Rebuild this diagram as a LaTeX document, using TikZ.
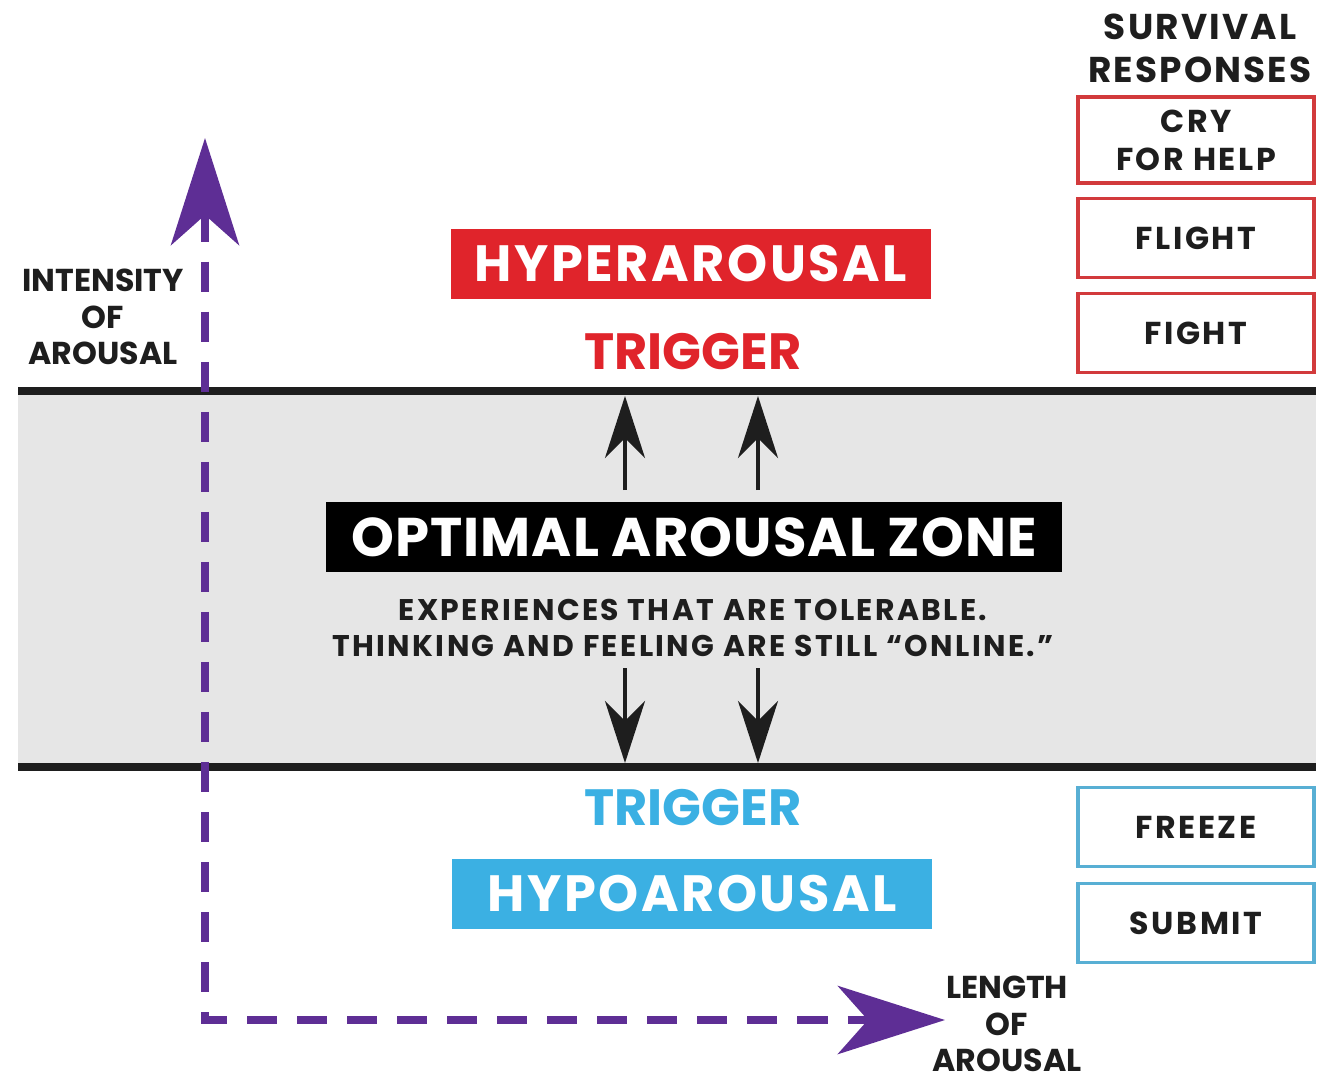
\documentclass[tikz,border=0pt]{standalone}
\usepackage{fontspec}
\setmainfont{Poppins}
\usetikzlibrary{arrows.meta}

\definecolor{hyperred}{HTML}{E0242B}
\definecolor{hypoblue}{HTML}{3BB0E3}
\definecolor{axispurple}{HTML}{5E2E95}
\definecolor{zonegray}{HTML}{E6E6E6}
\definecolor{redframe}{HTML}{D23A3C}
\definecolor{blueframe}{HTML}{58AFD4}
\definecolor{inkblack}{HTML}{1E1E1E}

\tikzset{
	small label/.style={font=\bfseries\fontsize{9}{10.4}\selectfont, align=center, text=inkblack, inner sep=0pt},
	state box/.style={font=\bfseries\fontsize{14.5}{16}\selectfont\addfontfeature{LetterSpace=5}, text=white, minimum width=4.8cm, minimum height=0.7cm, inner sep=0pt},
	trigger label/.style={font=\bfseries\fontsize{14.5}{16}\selectfont, inner sep=0pt},
	response box/.style={draw, line width=0.9pt, font=\bfseries\fontsize{9}{10.8}\selectfont\addfontfeature{LetterSpace=8}, align=center, text=inkblack, minimum width=2.36cm, minimum height=0.79cm, inner sep=0pt},
	zone line/.style={line width=2pt, inkblack},
	zone arrow/.style={line width=1.1pt, inkblack, -{Stealth[length=0.62cm, width=0.4cm, inset=0.2cm]}},
	axis arrow/.style={line width=2.3pt, axispurple, dash pattern=on 0.3cm off 0.2cm,
		{Stealth[length=1.07cm, width=0.68cm, inset=0.3cm]}-{Stealth[length=1.07cm, width=0.68cm, inset=0.3cm]}}
}

\begin{document}
\begin{tikzpicture}[x=0.01cm, y=-0.01cm]
	\useasboundingbox (0,0) rectangle (1323,1081);

	% comfort band
	\fill[zonegray] (18,391) rectangle (1316,768);
	\draw[zone line] (18,391) -- (1316,391);
	\draw[zone line] (18,767) -- (1316,767);

	% axes
	\coordinate (origin) at (205,1020);
	\coordinate (ytip) at (205,138);
	\coordinate (xtip) at (945,1020);
	\draw[axis arrow] (ytip) -- (origin) -- (xtip);
	\node[small label] (intensity) at (103,317) {INTENSITY\\OF\\AROUSAL};
	\node[small label] (length) at (1007,1024) {LENGTH\\OF\\AROUSAL};

	% states
	\node[state box, fill=hyperred] (hyper) at (691,264) {HYPERAROUSAL};
	\node[trigger label, text=hyperred] (trigup) at (693,352) {TRIGGER};
	\node[state box, fill=black, minimum width=7.36cm, font=\bfseries\fontsize{15.5}{17}\selectfont\addfontfeature{LetterSpace=2}] (optimal) at (694,537) {OPTIMAL AROUSAL ZONE};
	\node[small label, font=\bfseries\fontsize{8.5}{10.4}\selectfont\addfontfeature{LetterSpace=8}] (tolerable) at (693,628) {EXPERIENCES THAT ARE TOLERABLE.\\THINKING AND FEELING ARE STILL “ONLINE.”};
	\node[trigger label, text=hypoblue] (trigdown) at (693,808) {TRIGGER};
	\node[state box, fill=hypoblue] (hypo) at (692,894) {HYPOAROUSAL};

	% arrows out of the zone
	\coordinate (up1 tail) at (625,490);
	\coordinate (up1 head) at (625,396);
	\coordinate (up2 tail) at (758,490);
	\coordinate (up2 head) at (758,396);
	\coordinate (dn1 tail) at (625,668);
	\coordinate (dn1 head) at (625,763);
	\coordinate (dn2 tail) at (758,668);
	\coordinate (dn2 head) at (758,763);
	\draw[zone arrow] (up1 tail) -- (up1 head);
	\draw[zone arrow] (up2 tail) -- (up2 head);
	\draw[zone arrow] (dn1 tail) -- (dn1 head);
	\draw[zone arrow] (dn2 tail) -- (dn2 head);

	% survival responses
	\node[small label, font=\bfseries\fontsize{10.2}{12.2}\selectfont\addfontfeature{LetterSpace=6}] (survival) at (1200,48) {SURVIVAL\\RESPONSES};
	\node[response box, draw=redframe, minimum height=0.86cm] (cry) at (1196,140) {CRY\\FOR HELP};
	\node[response box, draw=redframe] (flight) at (1196,238) {FLIGHT};
	\node[response box, draw=redframe] (fight) at (1196,333) {FIGHT};
	\node[response box, draw=blueframe] (freeze) at (1196,827) {FREEZE};
	\node[response box, draw=blueframe] (submit) at (1196,923) {SUBMIT};
\end{tikzpicture}
\end{document}
